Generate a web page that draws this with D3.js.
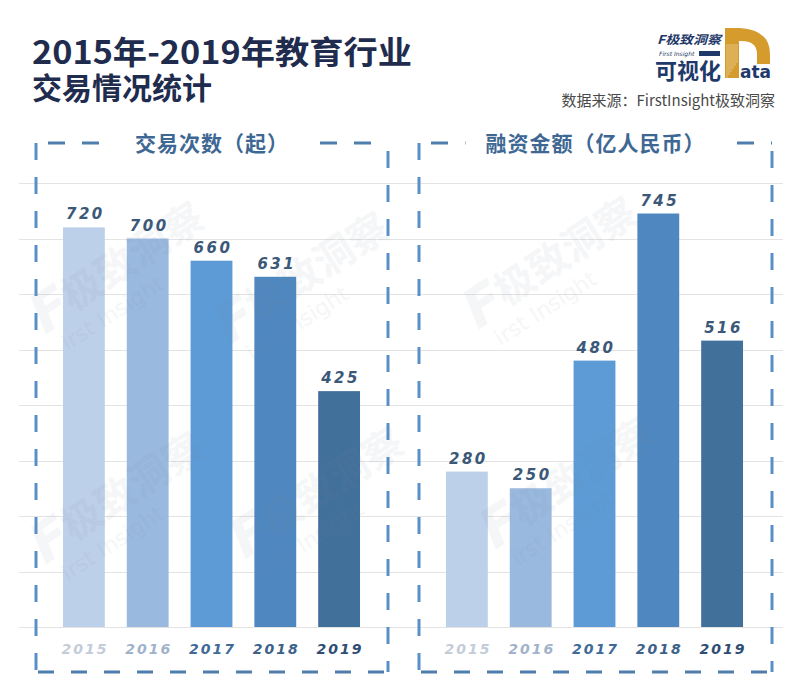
<!DOCTYPE html>
<html><head><meta charset="utf-8">
<script src="https://cdn.jsdelivr.net/npm/d3@7"></script>
<style>
html,body{margin:0;padding:0;background:#fff;}
svg{display:block;}
</style></head>
<body>
<svg id="chart" width="800" height="698"></svg>
<script>
const years = ["2015","2016","2017","2018","2019"];
const dealCounts = [720, 700, 660, 631, 425];
const fundingAmounts = [280, 250, 480, 745, 516];
const gridTicks = [0,100,200,300,400,500,600,700,800];
const barColors = ["#bdd0ea","#99b9df","#5c9bd6","#4f87c0","#41709b"];
const yearColors = ["#c3ccd9","#a1b3ca","#3f6a98","#3d6189","#2f4d74"];
const titleLine1 = "2015年-2019年教育行业";
const titleLine2 = "交易情况统计";
const leftTitle = "交易次数（起）";
const rightTitle = "融资金额（亿人民币）";
const sourceText = "数据来源：FirstInsight极致洞察";

const svg = d3.select("#chart");
const CJK = "'Noto Sans CJK SC','Noto Sans',sans-serif";
const NUM = "'DejaVu Sans',sans-serif";

svg.append("rect").attr("width",800).attr("height",698).attr("fill","#fff");

const y = d3.scaleLinear().domain([0,800]).range([627,183]);

svg.append("g").selectAll("line").data(gridTicks).join("line")
  .attr("x1",19).attr("x2",783)
  .attr("y1",d=>Math.round(y(d))+0.5).attr("y2",d=>Math.round(y(d))+0.5)
  .attr("stroke","#e3e3e3").attr("stroke-width",1);

function panel(x0, x1, rangeL, rangeR, values, title) {
  const g = svg.append("g");
  const x = d3.scaleBand().domain(years).range([rangeL, rangeR]).paddingInner(0.344).paddingOuter(0.172);
  g.selectAll("rect.bar").data(values).join("rect").attr("class","bar")
    .attr("x",(d,i)=>x(years[i])).attr("width",x.bandwidth())
    .attr("y",d=>y(d)).attr("height",d=>y(0)-y(d))
    .attr("fill",(d,i)=>barColors[i]);
  g.selectAll("text.val").data(values).join("text").attr("class","val")
    .attr("x",(d,i)=>x(years[i])+x.bandwidth()/2+1.5)
    .attr("y",d=>y(d)-8)
    .attr("text-anchor","middle")
    .attr("font-family",NUM).attr("font-weight","bold").attr("font-style","italic")
    .attr("font-size",15).attr("letter-spacing",2.5)
    .attr("fill","#3b5878")
    .text(d=>d);
  g.selectAll("text.yr").data(years).join("text").attr("class","yr")
    .attr("x",d=>x(d)+x.bandwidth()/2+1)
    .attr("y",654)
    .attr("text-anchor","middle")
    .attr("font-family",NUM).attr("font-weight","bold").attr("font-style","italic")
    .attr("font-size",14).attr("letter-spacing",2)
    .attr("fill",(d,i)=>yearColors[i])
    .text(d=>d);

  const vCol = "#5a8fc8", hCol = "#4f7dad";
  g.append("line").attr("x1",x0).attr("x2",x0).attr("y1",143).attr("y2",672)
    .attr("stroke",vCol).attr("stroke-width",3).attr("stroke-dasharray","17 17");
  g.append("line").attr("x1",x1).attr("x2",x1).attr("y1",143).attr("y2",672)
    .attr("stroke",vCol).attr("stroke-width",3).attr("stroke-dasharray","17 17").attr("stroke-dashoffset",-8);
  g.append("line").attr("x1",x0+12).attr("x2",x1).attr("y1",143).attr("y2",143)
    .attr("stroke",hCol).attr("stroke-width",3).attr("stroke-dasharray","17 17");
  g.append("line").attr("x1",x0+2).attr("x2",x1).attr("y1",672).attr("y2",672)
    .attr("stroke",hCol).attr("stroke-width",3).attr("stroke-dasharray","16 17");
  const cx = (x0+x1)/2;
  const t = g.append("text").attr("x",cx).attr("y",151).attr("text-anchor","middle")
    .attr("font-family",CJK).attr("font-weight","bold").attr("font-size",21)
    .attr("letter-spacing",1).attr("fill","#3e6893").text(title);
  const bb = t.node().getBBox();
  g.insert("rect", "text:last-of-type").attr("x",bb.x-20).attr("y",136).attr("width",bb.width+40).attr("height",16).attr("fill","#fff");
  t.raise();
}

panel(36, 388, 52, 371, dealCounts, leftTitle);
panel(419, 772, 435, 754, fundingAmounts, rightTitle);

const wmPos = [[45,335],[230,345],[478,330],[45,565],[245,560],[495,550]];
const wm = svg.append("g").attr("pointer-events","none");
wmPos.forEach(([px,py])=>{
  const w = wm.append("g").attr("transform",`translate(${px},${py}) rotate(-33)`);
  w.append("text").attr("x",0).attr("y",0).attr("font-family",NUM).attr("font-weight","bold").attr("font-style","italic")
    .attr("font-size",54).attr("fill","#7d8896").attr("opacity",0.07).text("F");
  w.append("text").attr("x",36).attr("y",-4).attr("font-family",CJK).attr("font-weight","bold")
    .attr("font-size",40).attr("fill","#7d8896").attr("opacity",0.07).text("极致洞察");
  w.append("text").attr("x",10).attr("y",26).attr("font-family",NUM)
    .attr("font-size",22).attr("fill","#7d8896").attr("opacity",0.07).text("irst Insight");
});

svg.append("text").attr("x",32).attr("y",64)
  .attr("font-family",CJK).attr("font-weight","bold").attr("font-size",32)
  .attr("fill","#1f2c4e").attr("textLength",380).attr("lengthAdjust","spacingAndGlyphs").text(titleLine1);
svg.append("text").attr("x",32).attr("y",99)
  .attr("font-family",CJK).attr("font-weight","bold").attr("font-size",30)
  .attr("fill","#1f2c4e").text(titleLine2);

const logo = svg.append("g");
logo.append("text").attr("x",657).attr("y",44).attr("font-family",CJK).attr("font-weight","bold")
  .attr("font-style","italic").attr("font-size",12).attr("fill","#1f3a6a")
  .attr("textLength",64).attr("lengthAdjust","spacingAndGlyphs").text("F极致洞察");
logo.append("text").attr("x",659).attr("y",56).attr("font-family",NUM).attr("font-style","italic")
  .attr("font-size",6).attr("fill","#1f3a6a").text("First Insight");
logo.append("rect").attr("x",699).attr("y",51).attr("width",21).attr("height",5).attr("fill","#1f3a6a");
logo.append("path").attr("d","M725,28 L740,28 Q770,30 770,54 L770,64 L757,64 L757,54 Q757,41 741,41 L739,41 L739,78 L725,78 Z")
  .attr("fill","#d59b2c");
logo.selectAll("line.dl").data(d3.range(6)).join("line").attr("class","dl")
  .attr("x1",(d,i)=>727+i*2).attr("x2",(d,i)=>727+i*2).attr("y1",44).attr("y2",(d,i)=>78-i*3)
  .attr("stroke","#fff").attr("stroke-width",0.6).attr("opacity",0.7);
logo.append("text").attr("x",655).attr("y",79).attr("font-family",CJK).attr("font-weight","bold")
  .attr("font-size",22).attr("fill","#1f3a6a").text("可视化");
logo.append("text").attr("x",740).attr("y",78).attr("font-family",NUM).attr("font-weight","bold")
  .attr("font-size",17).attr("fill","#1f3a6a").text("ata");

svg.append("text").attr("x",775).attr("y",106).attr("text-anchor","end")
  .attr("font-family",CJK).attr("font-size",15).attr("fill","#4a4a4a").text(sourceText);
</script>
</body></html>
